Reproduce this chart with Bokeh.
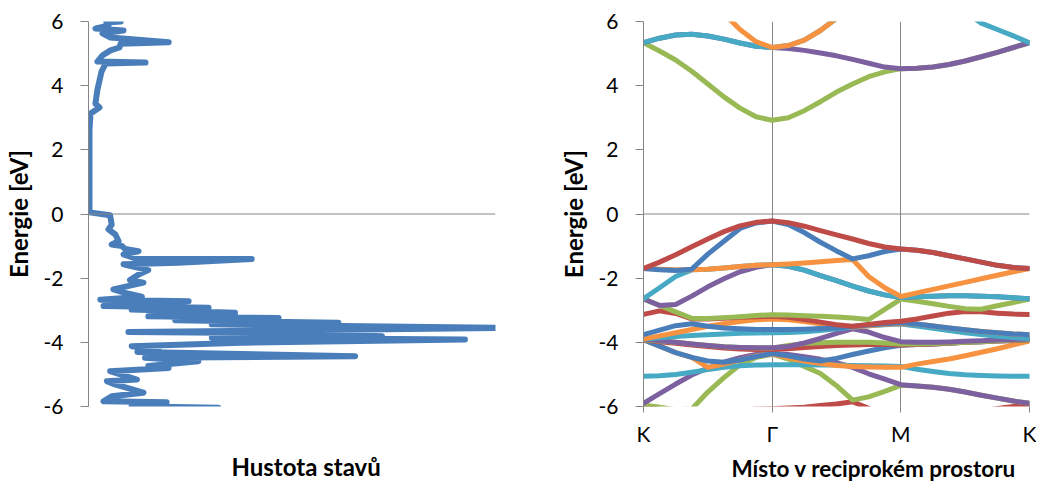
from bokeh.plotting import figure
from bokeh.layouts import row
from bokeh.models import FixedTicker, Span, Title
from bokeh.embed import file_html
from bokeh.resources import INLINE

FONT = "Lato"
AXIS_GREY = "#868686"
BLUE, RED, GREEN, PURPLE, CYAN, ORANGE = "#4a7ebb", "#be4b48", "#98b954", "#7d60a0", "#46aac5", "#f69240"

# ---------------- density of states (left panel) ----------------
dos_energy = [6.0, 5.97, 5.88, 5.78, 5.72, 5.63, 5.5, 5.35, 5.31, 5.19, 5.1, 4.94, 4.75, 4.72, 4.69,
              4.44, 3.88, 3.44, 3.32, 3.13, 2.63, 0.05, -0.04, -0.33, -0.48, -0.64, -0.85, -0.95,
              -1.0, -1.09, -1.16, -1.26, -1.4, -1.4, -1.52, -1.57, -1.75, -1.89, -2.06, -2.14,
              -2.35, -2.46, -2.58, -2.67, -2.72, -2.87, -2.92, -2.98, -3.08, -3.19, -3.24, -3.31,
              -3.39, -3.44, -3.55, -3.68, -3.72, -3.81, -3.86, -3.91, -4.01, -4.12, -4.22, -4.3,
              -4.43, -4.48, -4.59, -4.74, -4.8, -4.9, -5.16, -5.21, -5.31, -5.57, -5.68, -5.84,
              -5.87, -5.99, -6.04]
dos_value = [7.9, 4.4, 4.9, 1.7, 8.6, 3.4, 5.4, 19.7, 7.9, 7.6, 5.4, 3.4, 2.2, 14.0, 4.2,
             3.2, 2.2, 1.7, 2.7, 0.5, 0.25, 0.25, 5.3, 5.7, 4.9, 6.6, 7.4, 5.7,
             8.2, 9.0, 12.3, 8.6, 11.9, 40.1, 22.1, 8.6, 14.7, 12.3, 10.2, 13.5,
             6.1, 9.0, 13.1, 2.9, 24.6, 3.7, 29.5, 10.6, 36.0, 14.7, 46.7, 21.3,
             61.4, 30.3, 102.0, 9.8, 53.2, 72.1, 30.3, 92.5, 37.7, 10.6, 17.2, 12.0,
             65.5, 13.9, 27.0, 14.7, 19.7, 5.3, 11.9, 4.5, 6.5, 13.5, 5.7, 3.7,
             19.2, 10.6, 31.9]

# ---------------- band structure (right panel) ----------------
k_path = [0, 0.125, 0.25, 0.375, 0.5, 0.625, 0.75, 0.875, 1, 1.125, 1.25, 1.375, 1.5,
          1.625, 1.75, 1.875, 2, 2.125, 2.25, 2.375, 2.5, 2.625, 2.75, 2.875, 3]
k_labels = {0: "K", 1: "Γ", 2: "M", 3: "K"}
energy_ticks = [-6, -4, -2, 0, 2, 4, 6]
energy_labels = {-6: "-6", -4: "-4", -2: "-2", 0: "0", 2: "2", 4: "4", 6: "6"}

vb19 = [-5.95, -6.1, -6.3, -6.35, -6.3, -6.2, -6.12, -6.08, -6.07, -6.05, -6.02, -5.97, -5.92,
        -5.85, -6.06, -6.3, -6.5, -6.45, -6.38, -6.3, -6.22, -6.14, -6.06, -6.0, -5.95]
vb18 = [-5.95, -6.02, -6.1, -6.08, -5.55, -5.1, -4.7, -4.47, -4.37, -4.52, -4.75, -4.97, -5.35,
        -5.8, -5.7, -5.53, -5.34, -5.36, -5.4, -5.46, -5.55, -5.65, -5.74, -5.83, -5.9]
vb17 = [-5.9, -5.6, -5.3, -5.02, -4.8, -4.62, -4.48, -4.38, -4.35, -4.38, -4.45, -4.53, -4.63,
        -4.78, -4.98, -5.15, -5.32, -5.36, -5.4, -5.46, -5.55, -5.65, -5.74, -5.83, -5.9]
vb16 = [-5.06, -5.04, -5.0, -4.93, -4.85, -4.78, -4.73, -4.71, -4.7, -4.7, -4.7, -4.71, -4.71,
        -4.72, -4.73, -4.74, -4.75, -4.84, -4.91, -4.97, -5.01, -5.03, -5.05, -5.06, -5.06]
vb15 = [-3.92, -4.12, -4.32, -4.47, -4.78, -4.68, -4.55, -4.42, -4.36, -4.48, -4.58, -4.66, -4.72,
        -4.75, -4.77, -4.78, -4.78, -4.68, -4.6, -4.52, -4.42, -4.31, -4.2, -4.08, -3.96]
vb14 = [-3.92, -4.12, -4.32, -4.47, -4.58, -4.62, -4.55, -4.44, -4.35, -4.42, -4.52, -4.58, -4.5,
        -4.38, -4.27, -4.17, -4.09, -4.07, -4.05, -4.03, -4.0, -3.98, -3.96, -3.94, -3.92]
vb13 = [-3.92, -3.98, -4.03, -4.08, -4.13, -4.18, -4.21, -4.22, -4.22, -4.2, -4.16, -4.13, -4.1,
        -4.08, -4.07, -4.07, -4.08, -4.07, -4.05, -4.03, -4.0, -3.98, -3.96, -3.94, -3.92]
vb12 = [-3.92, -3.96, -4.0, -4.05, -4.1, -4.14, -4.16, -4.17, -4.18, -4.1, -4.04, -4.01, -4.0,
        -4.0, -4.0, -4.02, -4.05, -4.05, -4.04, -4.02, -4.0, -3.98, -3.95, -3.93, -3.92]
vb11 = [-3.9, -3.95, -4.0, -4.05, -4.1, -4.14, -4.16, -4.17, -4.17, -4.13, -4.02, -3.88, -3.72,
        -3.58, -3.68, -3.85, -3.98, -4.0, -4.0, -3.99, -3.97, -3.95, -3.93, -3.91, -3.9]
vb10 = [-3.9, -3.86, -3.82, -3.79, -3.76, -3.74, -3.72, -3.71, -3.7, -3.69, -3.67, -3.63, -3.58,
        -3.53, -3.48, -3.45, -3.43, -3.49, -3.56, -3.63, -3.7, -3.76, -3.81, -3.85, -3.88]
vb9 = [-3.9, -3.8, -3.7, -3.6, -3.5, -3.42, -3.35, -3.3, -3.27, -3.3, -3.35, -3.42, -3.48,
       -3.52, -3.48, -3.44, -3.41, -3.43, -3.49, -3.55, -3.61, -3.66, -3.7, -3.74, -3.76]
vb8 = [-3.76, -3.62, -3.48, -3.42, -3.5, -3.55, -3.58, -3.6, -3.6, -3.6, -3.59, -3.57, -3.55,
       -3.51, -3.46, -3.42, -3.39, -3.43, -3.49, -3.55, -3.61, -3.66, -3.7, -3.74, -3.76]
vb7 = [-3.13, -3.02, -3.1, -3.27, -3.27, -3.25, -3.22, -3.2, -3.19, -3.22, -3.29, -3.37, -3.45,
       -3.5, -3.44, -3.38, -3.34, -3.27, -3.18, -3.09, -3.04, -3.05, -3.09, -3.12, -3.13]
vb6 = [-2.65, -2.85, -3.05, -3.25, -3.26, -3.23, -3.2, -3.16, -3.14, -3.15, -3.17, -3.19, -3.21,
       -3.24, -3.29, -2.97, -2.65, -2.72, -2.8, -2.88, -2.95, -2.97, -2.86, -2.76, -2.65]
vb5 = [-2.64, -2.85, -2.82, -2.56, -2.27, -2.02, -1.8, -1.66, -1.58, -1.63, -1.75, -1.92, -2.08,
       -2.25, -2.4, -2.52, -2.6, -2.58, -2.56, -2.55, -2.55, -2.56, -2.58, -2.61, -2.64]
vb4 = [-2.64, -2.3, -1.95, -1.74, -1.72, -1.68, -1.64, -1.6, -1.58, -1.63, -1.75, -1.92, -2.08,
       -2.25, -2.4, -2.52, -2.6, -2.58, -2.56, -2.55, -2.55, -2.56, -2.58, -2.61, -2.64]
vb3 = [-1.7, -1.72, -1.74, -1.74, -1.72, -1.68, -1.64, -1.6, -1.58, -1.56, -1.53, -1.49, -1.45,
       -1.42, -1.95, -2.3, -2.57, -2.46, -2.35, -2.24, -2.13, -2.02, -1.91, -1.8, -1.7]
vb2 = [-1.7, -1.74, -1.76, -1.72, -1.25, -0.85, -0.45, -0.28, -0.22, -0.33, -0.58, -0.88, -1.15,
       -1.4, -1.3, -1.17, -1.09, -1.13, -1.2, -1.3, -1.4, -1.5, -1.6, -1.67, -1.7]
vb1 = [-1.7, -1.5, -1.27, -1.02, -0.78, -0.55, -0.37, -0.26, -0.22, -0.27, -0.38, -0.52, -0.65,
       -0.78, -0.92, -1.03, -1.09, -1.13, -1.2, -1.3, -1.4, -1.5, -1.6, -1.67, -1.7]
cb1 = [5.34, 5.08, 4.8, 4.45, 4.05, 3.65, 3.3, 3.03, 2.92, 3.0, 3.22, 3.5, 3.8,
       4.05, 4.28, 4.43, 4.53, 4.54, 4.58, 4.66, 4.77, 4.9, 5.04, 5.19, 5.34]
cb2 = [5.34, 5.48, 5.58, 5.6, 5.55, 5.45, 5.33, 5.23, 5.19, 5.16, 5.1, 5.02, 4.93,
       4.82, 4.7, 4.58, 4.53, 4.54, 4.58, 4.66, 4.77, 4.9, 5.04, 5.19, 5.34]
cb3 = [5.34, 5.48, 5.58, 5.6, 5.55, 5.45, 5.33, 5.23, 5.19, 5.25, 5.42, 5.72, 6.1,
       6.5, 6.9, 7.1, 7.2, 7.1, 6.9, 6.6, 6.3, 5.95, 5.75, 5.55, 5.34]
cb4 = [8.6, 8.3, 7.9, 7.4, 6.85, 6.25, 5.75, 5.37, 5.19, 5.25, 5.42, 5.72, 6.1,
       6.55, 7.0, 7.4, 7.6, 7.7, 7.8, 7.9, 8.0, 8.1, 8.2, 8.4, 8.6]

# drawing order: lowest band first, later series on top
bands = [(vb19, RED), (vb18, GREEN), (vb17, PURPLE), (vb16, CYAN), (vb15, ORANGE), (vb14, BLUE),
         (vb13, RED), (vb12, GREEN), (vb11, PURPLE), (vb10, CYAN), (vb9, ORANGE), (vb8, BLUE),
         (vb7, RED), (vb6, GREEN), (vb5, PURPLE), (vb4, CYAN), (vb3, ORANGE), (vb2, BLUE),
         (vb1, RED), (cb1, GREEN), (cb2, PURPLE), (cb3, CYAN), (cb4, ORANGE)]

TICK_SIZE = "21px"
YTITLE_SIZE = "24px"


def style_yaxis(p):
    ax = p.yaxis[0]
    ax.ticker = FixedTicker(ticks=energy_ticks)
    ax.major_label_overrides = energy_labels
    ax.axis_line_color = AXIS_GREY
    ax.major_tick_line_color = AXIS_GREY
    ax.major_tick_out = 8
    ax.major_tick_in = 0
    ax.minor_tick_line_color = None
    ax.major_label_text_font = FONT
    ax.major_label_text_font_size = TICK_SIZE
    ax.major_label_text_color = "#000000"
    ax.major_label_standoff = 17
    ax.axis_label = "Energie [eV]"
    ax.axis_label_text_font = FONT
    ax.axis_label_text_font_size = YTITLE_SIZE
    ax.axis_label_text_font_style = "bold"
    ax.axis_label_text_color = "#000000"
    ax.axis_label_standoff = 8


def base_figure(fw, left, right):
    p = figure(frame_width=fw, frame_height=385, output_backend="svg", toolbar_location=None,
               min_border_left=left, min_border_right=right, min_border_top=21,
               min_border_bottom=0, background_fill_color="white", border_fill_color="white")
    p.outline_line_color = None
    p.y_range.start, p.y_range.end = -6, 6
    p.ygrid.visible = False
    style_yaxis(p)
    return p


def style_xaxis(ax):
    ax.minor_tick_line_color = None
    ax.axis_line_color = None
    ax.major_tick_out = 6
    ax.major_tick_in = 0
    ax.major_label_text_font = FONT
    ax.major_label_text_font_size = TICK_SIZE
    ax.major_label_text_color = "#000000"
    ax.major_label_standoff = 8


def bottom_title(p, text, offset, size, standoff):
    p.add_layout(Title(text=text, align="left", offset=offset, text_font=FONT,
                       text_font_size=size, text_font_style="bold",
                       text_color="#000000", standoff=standoff), "below")


# left panel
p1 = base_figure(407, 82, 10)
p1.x_range.start, p1.x_range.end = 0, 100
p1.xgrid.visible = False
xa = p1.xaxis[0]
style_xaxis(xa)
xa.ticker = FixedTicker(ticks=[50])
xa.major_tick_line_color = None
xa.major_label_text_alpha = 0.0
p1.add_layout(Span(location=0, dimension="width", line_color=AXIS_GREY, line_width=1))
p1.line(dos_value, dos_energy, line_width=6, line_color=BLUE, line_join="round", line_cap="round")
bottom_title(p1, "Hustota stavů", 143, "24px", 75)

# right panel
p2 = base_figure(386, 138, 7)
p2.x_range.start, p2.x_range.end = 0, 3
p2.xgrid.ticker = FixedTicker(ticks=[1, 2, 3])
p2.xgrid.grid_line_color = AXIS_GREY
p2.xgrid.grid_line_width = 1
xb = p2.xaxis[0]
style_xaxis(xb)
xb.ticker = FixedTicker(ticks=[0, 1, 2, 3])
xb.major_label_overrides = k_labels
xb.major_tick_line_color = AXIS_GREY
p2.add_layout(Span(location=0, dimension="width", line_color=AXIS_GREY, line_width=1))
for energies, color in bands:
    p2.line(k_path, energies, line_width=5, line_color=color, line_join="round", line_cap="round")
bottom_title(p2, "Místo v reciprokém prostoru", 88, "22.5px", 9)

layout = row(p1, p2)
open("out.html", "w").write(file_html(layout, INLINE))
